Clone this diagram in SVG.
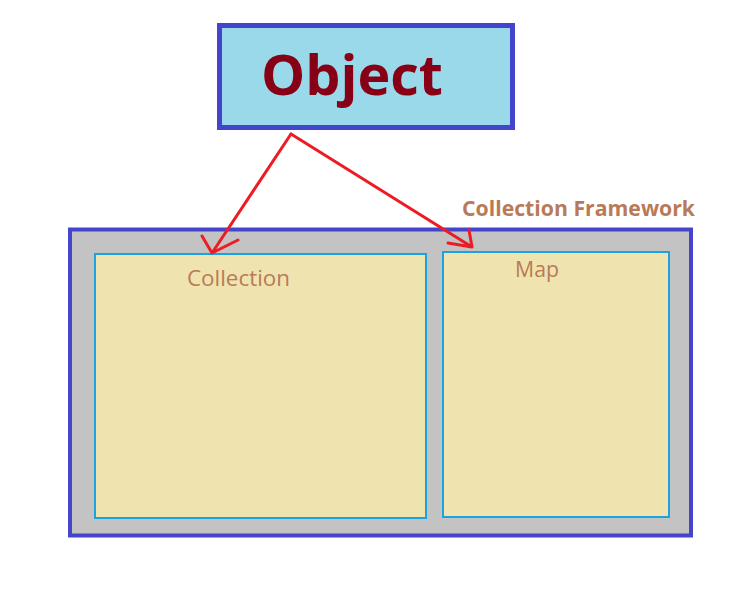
<svg xmlns="http://www.w3.org/2000/svg" width="753" height="597" viewBox="0 0 753 597">
<style>
.lbl{font-family:"Segoe UI","Open Sans","Liberation Sans",sans-serif;fill:#B97A57}
.inner{fill:#EFE4B0;stroke:#1AA3E0;stroke-width:2}
.arrow{fill:none;stroke:#ED1C24;stroke-width:3;stroke-linecap:round;stroke-linejoin:round}
</style>
<rect width="753" height="597" fill="#ffffff"/>
<g id="object">
<rect x="219.5" y="25.5" width="293" height="102" fill="#99D9EA" stroke="#4444CC" stroke-width="5"/>
<text x="261" y="95" font-family="Open Sans, Liberation Sans, sans-serif" font-weight="bold" font-size="56" fill="#880015" textLength="182" lengthAdjust="spacingAndGlyphs">Object</text>
</g>
<g id="framework">
<rect x="70" y="229.5" width="621" height="306" fill="#C3C3C3" stroke="#4545CC" stroke-width="4"/>
<text class="lbl" x="462" y="216" font-size="21" font-weight="bold" textLength="233" lengthAdjust="spacingAndGlyphs">Collection Framework</text>
</g>
<g id="collection">
<rect class="inner" x="95" y="254" width="331" height="264"/>
<text class="lbl" x="187" y="286" font-size="21" textLength="103" lengthAdjust="spacingAndGlyphs">Collection</text>
</g>
<g id="map">
<rect class="inner" x="443" y="252" width="226" height="265"/>
<text class="lbl" x="515" y="277" font-size="21" textLength="44" lengthAdjust="spacingAndGlyphs">Map</text>
</g>
<g id="connectors">
<path class="arrow" d="M291,134 L212,253 M202,236 L212,253 L238,240"/>
<path class="arrow" d="M291,134 L472,247 M469,230 L472,247 L448,243"/>
</g>
</svg>
